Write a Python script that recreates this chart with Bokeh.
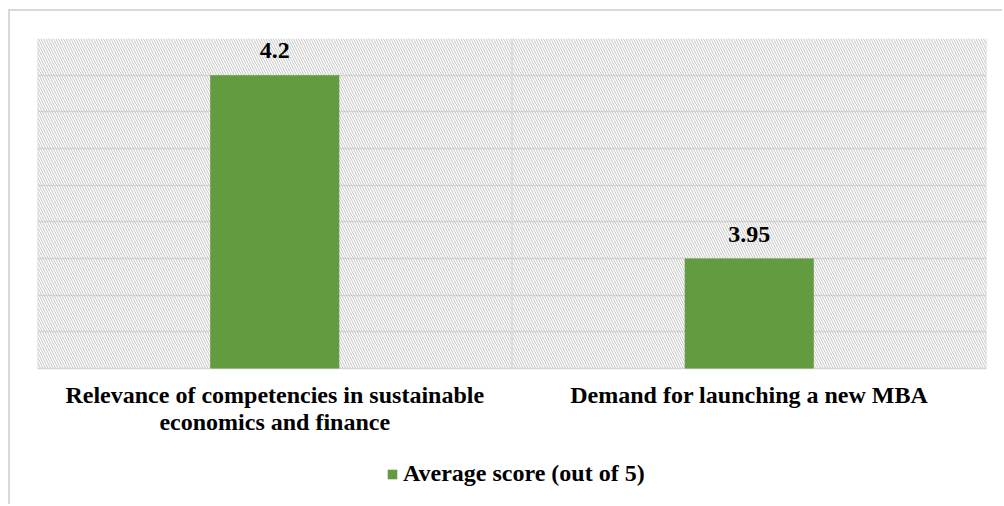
from bokeh.plotting import figure
from bokeh.models import (ColumnDataSource, LabelSet, Legend, LegendItem,
                          BoxAnnotation, FixedTicker, Range1d)
from bokeh.core.properties import value
from bokeh.embed import file_html
from bokeh.resources import INLINE

categories = ["Relevance of competencies in sustainable\neconomics and finance",
              "Demand for launching a new MBA"]
scores = [4.2, 3.95]
value_labels = ["4.2", "3.95"]
series_name = "Average score (out of 5)"
y_min, y_max, y_step = 3.80, 4.25, 0.05

GREEN = "#629b40"
GRID = "#d9d9d9"
FONT = "Liberation Serif"

# layout: plot region 330 px tall, extra 138 px below it for labels and legend
PLOT_H, BELOW_H = 330, 138
y_low = y_min - (y_max - y_min) * BELOW_H / PLOT_H

src = ColumnDataSource(dict(cat=categories, score=scores, lab=value_labels,
                            base=[y_min] * len(categories)))

p = figure(x_range=categories, y_range=Range1d(y_low, y_max),
           width=994, height=495, output_backend="svg", toolbar_location=None,
           min_border_left=27, min_border_right=18, min_border_top=27,
           min_border_bottom=0)
p.margin = (9, 0, 0, 8)
p.styles = {"border-left": "2px solid #d9d9d9", "border-top": "2px solid #d9d9d9"}
p.outline_line_color = None
p.axis.visible = False
p.xgrid.grid_line_color = None

# hatched plot region
p.add_layout(BoxAnnotation(bottom=y_min, top=y_max, fill_alpha=0, line_color=None,
                           level="underlay", hatch_pattern="\\", hatch_color="#c4c4c4",
                           hatch_scale=5, hatch_weight=1))

n_ticks = int(round((y_max - y_min) / y_step)) + 1
p.ygrid.ticker = FixedTicker(ticks=[y_min + i * y_step for i in range(n_ticks)])
p.ygrid.grid_line_color = GRID
p.ygrid.grid_line_width = 1.5

# vertical separators between categories + plot region border
bounds = list(range(0, len(categories) + 1))
p.segment(x0=bounds, y0=[y_min] * len(bounds), x1=bounds, y1=[y_max] * len(bounds),
          line_color=GRID, line_width=1.5)

r = p.vbar(x="cat", top="score", bottom="base", width=0.272, source=src,
           fill_color=GREEN, line_color=None)

p.add_layout(LabelSet(x="cat", y="score", text="lab", source=src,
                      text_align="center", text_baseline="alphabetic", y_offset=17,
                      text_font=FONT, text_font_style="bold",
                      text_font_size="24px", text_color="black"))

# category labels under the plot region
p.text(x="cat", y="base", text="cat", source=src, text_align="center",
       text_baseline="top", y_offset=13, text_font=value(FONT),
       text_font_size="24px", text_font_style="bold", text_color="black",
       text_line_height=1.05)

legend = Legend(items=[LegendItem(label=series_name, renderers=[r])],
                location=(349, 19), orientation="horizontal",
                label_text_font=FONT, label_text_font_style="bold",
                label_text_font_size="24px", label_text_color="black",
                glyph_width=12, glyph_height=12, label_standoff=5,
                padding=0, margin=0, border_line_color=None,
                background_fill_alpha=0)
p.add_layout(legend, "center")

p.background_fill_color = "white"
p.border_fill_color = "white"

open("out.html", "w").write(file_html(p, INLINE))
